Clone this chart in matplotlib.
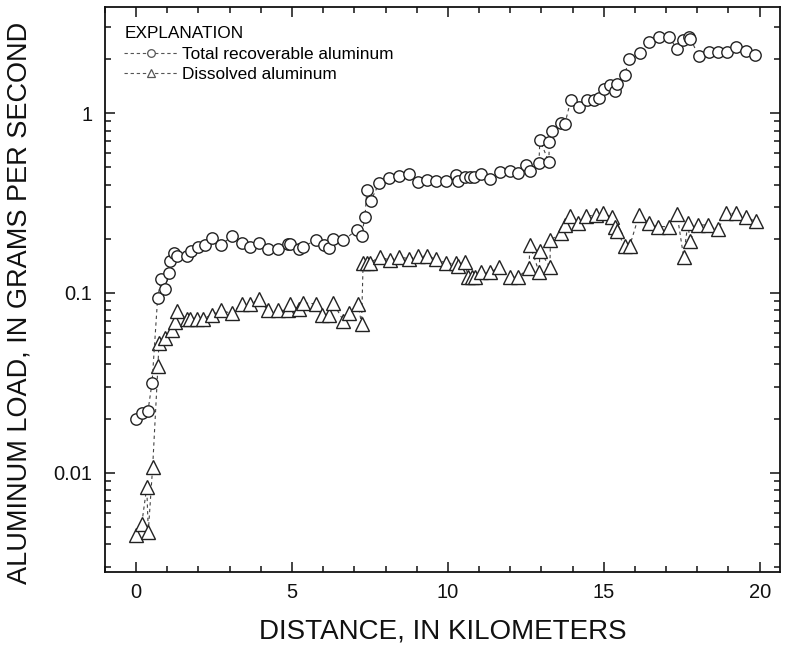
import matplotlib
matplotlib.use("Agg")
import matplotlib.pyplot as plt
from matplotlib.lines import Line2D
from matplotlib.ticker import FixedLocator, LogLocator, NullFormatter, MultipleLocator

plt.rcParams["font.family"] = ["Liberation Sans", "DejaVu Sans"]

# distance along stream (km) and loads (g/s)
total_km = [0.00, 0.19, 0.38, 0.51, 0.69, 0.80, 0.93, 1.06, 1.09, 1.22, 1.30, 1.64,
            1.75, 1.98, 2.21, 2.42, 2.71, 3.09, 3.39, 3.65, 3.93, 4.22, 4.54, 4.86,
            4.94, 5.23, 5.34, 5.77, 6.03, 6.20, 6.32, 6.65, 7.07, 7.23, 7.34, 7.40,
            7.52, 7.80, 8.12, 8.43, 8.75, 9.03, 9.34, 9.63, 9.94, 10.26, 10.33, 10.54,
            10.70, 10.83, 11.05, 11.35, 11.67, 11.99, 12.25, 12.52, 12.63, 12.92, 12.95,
            13.24, 13.25, 13.35, 13.64, 13.75, 13.94, 14.20, 14.45, 14.69, 14.85, 15.01,
            15.21, 15.35, 15.44, 15.67, 15.81, 16.15, 16.45, 16.77, 17.09, 17.35, 17.54,
            17.73, 17.78, 18.05, 18.37, 18.66, 18.96, 19.25, 19.57, 19.86]
total_load = [0.020, 0.0215, 0.0221, 0.0316, 0.094, 0.12, 0.105, 0.129, 0.15, 0.167, 0.16, 0.16,
              0.172, 0.18, 0.185, 0.202, 0.185, 0.207, 0.19, 0.18, 0.19, 0.175, 0.175, 0.187,
              0.187, 0.176, 0.18, 0.197, 0.185, 0.177, 0.20, 0.196, 0.224, 0.208, 0.266, 0.373,
              0.324, 0.41, 0.437, 0.447, 0.462, 0.416, 0.425, 0.42, 0.42, 0.453, 0.42, 0.44,
              0.44, 0.44, 0.458, 0.43, 0.472, 0.475, 0.465, 0.514, 0.48, 0.53, 0.71,
              0.535, 0.69, 0.80, 0.88, 0.87, 1.18, 1.08, 1.18, 1.18, 1.21, 1.37,
              1.43, 1.33, 1.46, 1.63, 2.01, 2.15, 2.49, 2.64, 2.64, 2.29, 2.55,
              2.64, 2.60, 2.07, 2.19, 2.19, 2.19, 2.34, 2.22, 2.10]

diss_km = [0.00, 0.18, 0.34, 0.39, 0.53, 0.70, 0.73, 0.93, 1.14, 1.25, 1.30, 1.62,
           1.73, 1.94, 2.16, 2.42, 2.71, 3.06, 3.39, 3.65, 3.95, 4.22, 4.54, 4.86,
           4.94, 5.23, 5.34, 5.77, 5.95, 6.20, 6.32, 6.65, 6.84, 7.12, 7.23, 7.28,
           7.39, 7.50, 7.82, 8.14, 8.43, 8.75, 9.05, 9.34, 9.63, 9.94, 10.26, 10.33,
           10.54, 10.65, 10.76, 10.87, 11.05, 11.35, 11.64, 11.99, 12.25, 12.60, 12.63,
           12.93, 12.95, 13.27, 13.29, 13.64, 13.75, 13.93, 14.17, 14.44, 14.74, 14.99,
           15.27, 15.35, 15.42, 15.67, 15.83, 16.13, 16.45, 16.74, 17.09, 17.35, 17.56,
           17.70, 17.76, 18.02, 18.34, 18.66, 18.93, 19.23, 19.57, 19.87]
diss_load = [0.0045, 0.0052, 0.0083, 0.0047, 0.0108, 0.0394, 0.0525, 0.056, 0.062, 0.069, 0.079, 0.072,
             0.072, 0.072, 0.072, 0.0755, 0.080, 0.077, 0.087, 0.087, 0.092, 0.080, 0.080, 0.080,
             0.087, 0.081, 0.088, 0.087, 0.075, 0.075, 0.088, 0.070, 0.077, 0.087, 0.067, 0.147,
             0.147, 0.147, 0.159, 0.152, 0.159, 0.155, 0.160, 0.160, 0.155, 0.146, 0.146, 0.141,
             0.148, 0.123, 0.123, 0.123, 0.130, 0.130, 0.139, 0.123, 0.123, 0.137, 0.185,
             0.130, 0.172, 0.139, 0.197, 0.216, 0.239, 0.268, 0.246, 0.268, 0.271, 0.277,
             0.264, 0.234, 0.222, 0.182, 0.182, 0.271, 0.246, 0.234, 0.234, 0.275, 0.159,
             0.246, 0.195, 0.239, 0.239, 0.226, 0.277, 0.277, 0.264, 0.250]

y_ticks = [0.01, 0.1, 1]
y_labels = ["0.01", "0.1", "1"]

fig = plt.figure(figsize=(7.91, 6.49), dpi=100)
ax = fig.add_axes([0.1327, 0.1186, 0.8533, 0.8706])

line_kw = dict(ls=(0, (3, 3)), lw=0.8, color="#444444", mfc="white",
               mec="#222222", mew=1.0)
ax.plot(diss_km, diss_load, marker="^", ms=9.5, **line_kw)
ax.plot(total_km, total_load, marker="o", ms=8.2, **line_kw)

ax.set_yscale("log")
ax.set_xlim(-1, 20.65)
ax.set_ylim(0.0028, 3.9)

ax.xaxis.set_major_locator(MultipleLocator(5))
ax.xaxis.set_minor_locator(MultipleLocator(1))
ax.yaxis.set_major_locator(FixedLocator(y_ticks))
ax.set_yticklabels(y_labels)
ax.yaxis.set_minor_locator(LogLocator(base=10, subs=range(2, 10)))
ax.yaxis.set_minor_formatter(NullFormatter())

ax.tick_params(which="both", direction="in", top=True, right=True, width=1.1,
               labelsize=14.5, colors="#111111")
ax.tick_params(which="major", length=7.5)
ax.tick_params(which="minor", length=4.5)
ax.tick_params(axis="x", which="major", pad=8)
ax.tick_params(axis="y", which="major", pad=9)
for sp in ax.spines.values():
    sp.set_linewidth(1.3)
    sp.set_color("#111111")

ax.set_xlabel("DISTANCE, IN KILOMETERS", fontsize=20, labelpad=12, color="#111111")
ax.set_ylabel("ALUMINUM LOAD, IN GRAMS PER SECOND", fontsize=19.5, color="#111111")
ax.yaxis.set_label_coords(-0.108, 0.476)

handle_kw = dict(ls=(0, (3, 2.5)), lw=0.8, color="#555555", mfc="white",
                 mec="#555555", mew=0.9, ms=5.5)
handles = [Line2D([], [], marker="o", **handle_kw),
           Line2D([], [], marker="^", **handle_kw)]
leg = ax.legend(handles, ["Total recoverable aluminum", "Dissolved aluminum"],
                title="EXPLANATION", loc="upper left", frameon=False,
                fontsize=12.4, title_fontsize=12.4, handlelength=3.1,
                handletextpad=0.25, labelspacing=0.3,
                borderaxespad=0.4, bbox_to_anchor=(0.008, 0.99))
leg._legend_box.align = "left"

fig.savefig("out.png", dpi=100)
